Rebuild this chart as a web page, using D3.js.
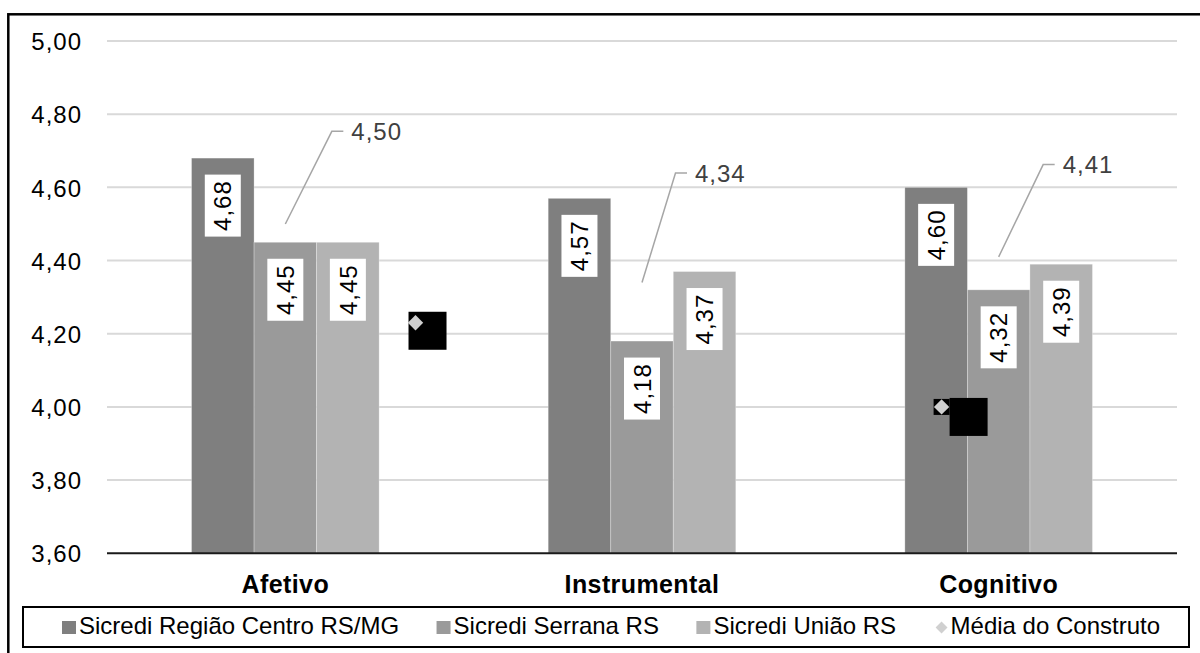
<!DOCTYPE html>
<html>
<head>
<meta charset="utf-8">
<script src="https://cdn.jsdelivr.net/npm/d3@7"></script>
<style>
  html, body { margin: 0; padding: 0; background: #fff; }
  svg { display: block; font-family: "Liberation Sans", Arial, sans-serif; }
</style>
</head>
<body>
<svg id="chart" width="1200" height="653"></svg>
<script>
// ---------- data ----------
const categories = ["Afetivo", "Instrumental", "Cognitivo"];
const seriesNames = ["Sicredi Região Centro RS/MG", "Sicredi Serrana RS", "Sicredi União RS"];
const regiaoCentroRSMG = [4.68, 4.57, 4.60];
const serranaRS = [4.45, 4.18, 4.32];
const uniaoRS = [4.45, 4.37, 4.39];
const mediaName = "Média do Construto";
const mediaConstruto = [4.50, 4.34, 4.41];
// where the "Média" diamond markers ended up in the picture (value axis)
const mediaMarkerValues = [4.23, null, 4.00];
const yTicks = [3.60, 3.80, 4.00, 4.20, 4.40, 4.60, 4.80, 5.00];

// ---------- layout / style ----------
const seriesColors = ["#7f7f7f", "#9a9a9a", "#b3b3b3"];
const diamondColor = "#d0d0d0";
const plot = { left: 107, right: 1177, top: 41, bottom: 553.3 };
const labelOffsets = [ {dx: 66, dy: -92.6}, {dx: 53, dy: -109.4}, {dx: 64, dy: -92.3} ]; // Média labels
const markerShift = [0.365, 0, -0.16];       // in category steps
const blackSquareOffset = [ {dx: -7, dy: -11}, null, {dx: 8, dy: -9} ];
const smallBlackBehind = [false, false, true];

const locale = d3.formatLocale({ decimal: ",", thousands: ".", grouping: [3], currency: ["R$", ""] });
const fmt = locale.format(".2f");

const svg = d3.select("#chart");

// outer frame (extends beyond the picture at right and bottom)
svg.append("rect")
  .attr("x", 8.3).attr("y", 14.3).attr("width", 1250).attr("height", 700)
  .attr("fill", "none").attr("stroke", "#000").attr("stroke-width", 2.5);

const x0 = d3.scaleBand().domain(categories).range([plot.left, plot.right])
  .paddingInner(0.474).paddingOuter(0.237);
const x1 = d3.scaleBand().domain(seriesNames).range([0, x0.bandwidth()]);
const y = d3.scaleLinear().domain([3.6, 5.0]).range([plot.bottom, plot.top]);

// gridlines
svg.append("g").selectAll("line").data(yTicks.filter(d => d > 3.6)).join("line")
  .attr("x1", plot.left).attr("x2", plot.right)
  .attr("y1", d => y(d)).attr("y2", d => y(d))
  .attr("stroke", "#d9d9d9").attr("stroke-width", 2);

// y axis tick labels via d3 axis
const yAxis = d3.axisLeft(y).tickValues(yTicks).tickFormat(fmt).tickSize(0).tickPadding(0);
const yg = svg.append("g").attr("transform", `translate(${82},0)`).call(yAxis);
yg.select(".domain").remove();
yg.selectAll("text")
  .attr("font-size", 24).attr("letter-spacing", 1).attr("fill", "#000")
  .attr("font-family", "Liberation Sans, Arial, sans-serif")
  .attr("dy", "0.36em");

// bars
const seriesValues = [regiaoCentroRSMG, serranaRS, uniaoRS];
const rows = [];
categories.forEach((c, i) => {
  seriesNames.forEach((s, j) => rows.push({ cat: c, series: s, j, value: seriesValues[j][i] }));
});

const barG = svg.append("g");
barG.selectAll("rect").data(rows).join("rect")
  .attr("x", d => x0(d.cat) + x1(d.series))
  .attr("y", d => y(d.value))
  .attr("width", x1.bandwidth())
  .attr("height", d => y(3.6) - y(d.value))
  .attr("fill", d => seriesColors[d.j])
  .attr("stroke", "rgba(255,255,255,0.35)").attr("stroke-width", 0.8);

// x axis line
svg.append("line")
  .attr("x1", plot.left).attr("x2", plot.right)
  .attr("y1", y(3.6)).attr("y2", y(3.6))
  .attr("stroke", "#1a1a1a").attr("stroke-width", 2);

// category labels
svg.append("g").selectAll("text").data(categories).join("text")
  .attr("x", d => x0(d) + x0.bandwidth() / 2)
  .attr("y", 593)
  .attr("text-anchor", "middle")
  .attr("font-size", 25).attr("font-weight", "bold").attr("letter-spacing", 0.4)
  .text(d => d);

// data labels (rotated, white boxes)
const lblG = svg.append("g").selectAll("g").data(rows).join("g")
  .attr("transform", d => `translate(${x0(d.cat) + x1(d.series) + x1.bandwidth() / 2},${y(d.value) + 16.5 + 31})`);
lblG.append("rect")
  .attr("x", -18).attr("y", -31).attr("width", 36).attr("height", 62)
  .attr("fill", "#fff");
lblG.append("text")
  .attr("transform", "rotate(-90)")
  .attr("text-anchor", "middle").attr("dy", "0.36em")
  .attr("font-size", 24).attr("letter-spacing", 1).attr("fill", "#000")
  .text(d => fmt(d.value));

// Média do Construto: displaced markers with black artefacts
const step = x0.step();
const markers = categories.map((c, i) => ({ cat: c, i, value: mediaMarkerValues[i] })).filter(d => d.value != null);
const mk = svg.append("g").selectAll("g").data(markers).join("g")
  .attr("transform", d => `translate(${x0(d.cat) + x0.bandwidth() / 2 + markerShift[d.i] * step},${y(d.value)})`);
mk.filter(d => smallBlackBehind[d.i]).append("rect")
  .attr("x", -8).attr("y", -8).attr("width", 16).attr("height", 16).attr("fill", "#000");
mk.append("rect")
  .attr("x", d => blackSquareOffset[d.i].dx).attr("y", d => blackSquareOffset[d.i].dy)
  .attr("width", 38).attr("height", 38).attr("fill", "#000");
mk.append("path")
  .attr("d", d3.symbol(d3.symbolDiamond2, 150)())
  .attr("fill", diamondColor);

// Média labels with leader lines
const mediaRows = categories.map((c, i) => ({ cat: c, i, value: mediaConstruto[i] }));
const ml = svg.append("g").selectAll("g").data(mediaRows).join("g");
ml.append("path")
  .attr("d", d => {
    const px = x0(d.cat) + x0.bandwidth() / 2, py = y(d.value);
    const tx = px + labelOffsets[d.i].dx, ty = py + labelOffsets[d.i].dy;
    return `M${px},${py}L${tx - 19.5},${ty}L${tx - 8},${ty}`;
  })
  .attr("fill", "none").attr("stroke", "#a6a6a6").attr("stroke-width", 1.5);
ml.append("text")
  .attr("x", d => x0(d.cat) + x0.bandwidth() / 2 + labelOffsets[d.i].dx)
  .attr("y", d => y(d.value) + labelOffsets[d.i].dy)
  .attr("dy", "0.36em")
  .attr("font-size", 24).attr("letter-spacing", 1).attr("fill", "#404040")
  .text(d => fmt(d.value));

// legend
svg.append("rect")
  .attr("x", 23).attr("y", 607).attr("width", 1166).attr("height", 40)
  .attr("fill", "#fff").attr("stroke", "#000").attr("stroke-width", 2);
const legendItems = seriesNames.map((s, j) => ({ name: s, type: "square", color: seriesColors[j] }))
  .concat([{ name: mediaName, type: "diamond", color: diamondColor }]);
const lg = svg.append("g").selectAll("g").data(legendItems).join("g");
lg.append("text")
  .attr("x", 17).attr("y", 634)
  .attr("font-size", 24).attr("fill", "#000")
  .text(d => d.name);
lg.filter(d => d.type === "square").append("rect")
  .attr("x", 0).attr("y", 621).attr("width", 14).attr("height", 13)
  .attr("fill", d => d.color);
lg.filter(d => d.type === "diamond").append("path")
  .attr("transform", "translate(8,627.5)")
  .attr("d", d3.symbol(d3.symbolDiamond2, 90)())
  .attr("fill", d => d.color);
const widths = [];
lg.each(function () { widths.push(17 + d3.select(this).select("text").node().getComputedTextLength()); });
const legendStart = 62, legendEnd = 1160;
const gap = (legendEnd - legendStart - d3.sum(widths)) / (widths.length - 1);
let cx = legendStart;
lg.each(function (d, i) {
  d3.select(this).attr("transform", `translate(${cx},0)`);
  cx += widths[i] + gap;
});
</script>
</body>
</html>
